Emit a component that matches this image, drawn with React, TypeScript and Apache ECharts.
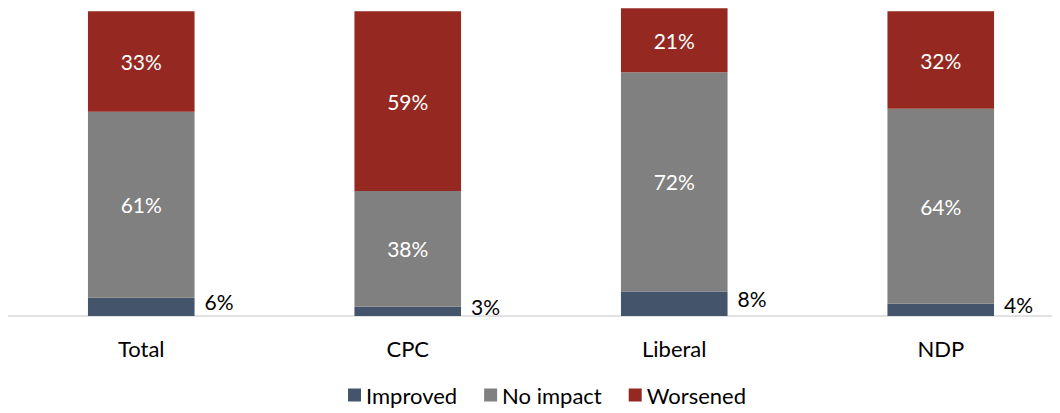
import React, { useEffect, useRef } from "react";
import * as echarts from "echarts";

const categories = ["Total", "CPC", "Liberal", "NDP"];
const improved = [6, 3, 8, 4];
const noImpact = [61, 38, 72, 64];
const worsened = [33, 59, 21, 32];

const FONT = "Lato, 'Open Sans', sans-serif";

export default function App() {
  const ref = useRef<HTMLDivElement>(null);
  useEffect(() => {
    if (!ref.current) return;
    const chart = echarts.init(ref.current, undefined, { renderer: "svg" });
    const inLabel = {
      show: true,
      position: "inside" as const,
      color: "#ffffff",
      fontSize: 21,
      fontFamily: FONT,
      formatter: (p: any) => p.value + "%",
    };
    chart.setOption({
      animation: false,
      textStyle: { fontFamily: FONT },
      grid: { left: 0, right: 0, top: 3.3, bottom: 97, containLabel: false },
      legend: {
        bottom: 2,
        left: 335,
        itemWidth: 13,
        itemHeight: 13,
        itemGap: 27,
        itemStyle: { borderWidth: 0 },
        icon: "rect",
        textStyle: { fontSize: 22, color: "#000", fontFamily: FONT },
        data: ["Improved", "No impact", "Worsened"],
      },
      xAxis: {
        type: "category",
        data: categories,
        axisLine: { show: true, lineStyle: { color: "#d9d9d9", width: 1.5 } },
        axisTick: { show: false },
        axisLabel: { fontSize: 22, color: "#000", margin: 21, fontFamily: FONT },
      },
      yAxis: {
        type: "value",
        min: 0,
        max: 100,
        show: false,
        splitLine: { show: false },
      },
      series: [
        {
          name: "Improved",
          type: "bar",
          stack: "s",
          barWidth: "40%",
          clip: false,
          data: improved,
          itemStyle: { color: "#44546a" },
          label: {
            show: true,
            position: "right",
            distance: 10,
            offset: [0, -5],
            color: "#000",
            fontSize: 21,
            fontFamily: FONT,
            formatter: (p: any) => p.value + "%",
          },
        },
        {
          name: "No impact",
          type: "bar",
          stack: "s",
          clip: false,
          data: noImpact,
          itemStyle: { color: "#808080" },
          label: inLabel,
        },
        {
          name: "Worsened",
          type: "bar",
          stack: "s",
          clip: false,
          data: worsened,
          itemStyle: { color: "#952921" },
          label: inLabel,
        },
      ],
    });
    return () => chart.dispose();
  }, []);
  return (
    <div style={{ width: 1052, height: 405, overflow: "hidden" }}>
      <div ref={ref} style={{ width: 1066, height: 405 }} />
    </div>
  );
}
